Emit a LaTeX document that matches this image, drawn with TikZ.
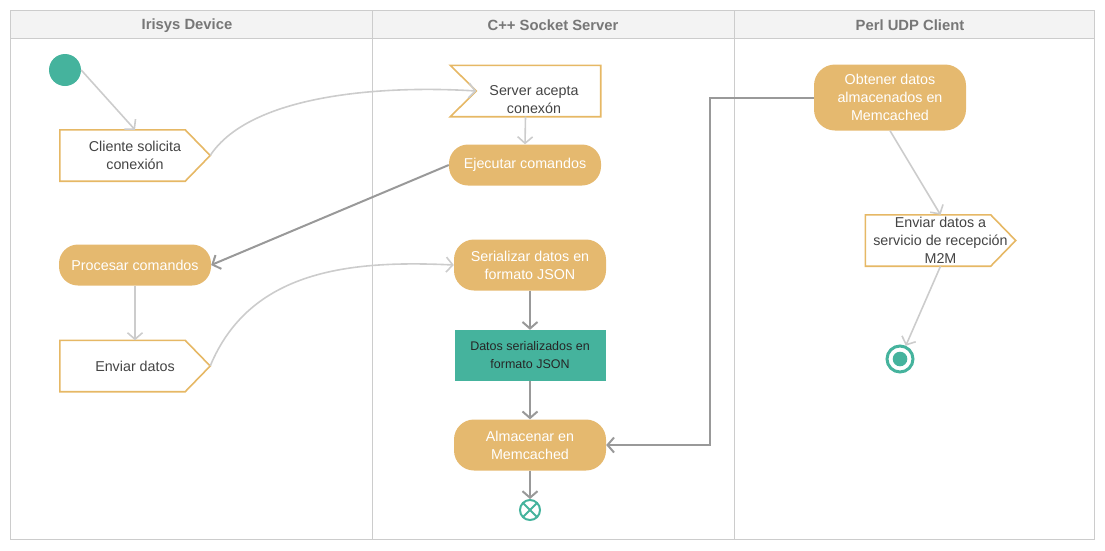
\documentclass[tikz,border=0pt]{standalone}
\usepackage{fontspec}
\setmainfont{Liberation Sans}
\usetikzlibrary{arrows.meta}
\definecolor{orng}{HTML}{E5B96F}
\definecolor{orngline}{HTML}{E6B865}
\definecolor{teal}{HTML}{45B39D}
\definecolor{lgrey}{HTML}{CCCCCC}
\definecolor{dgrey}{HTML}{999999}
\definecolor{hdr}{HTML}{F3F3F3}
\definecolor{hdrtext}{HTML}{777777}
\definecolor{txt}{HTML}{444444}
\begin{document}
\begin{tikzpicture}[x=1pt,y=-1pt,
  frame/.style={draw=lgrey, line width=1pt},
  lanetitle/.style={font=\fontsize{14.8}{17}\selectfont\bfseries, text=hdrtext},
  act/.style={rounded corners=19pt, fill=orng, text=white, minimum width=152pt, minimum height=41pt, align=center, inner sep=0pt, font=\fontsize{14.3}{18}\selectfont},
  sigbox/.style={minimum width=150pt, minimum height=51pt, align=center, inner sep=0pt, text=txt, font=\fontsize{14.3}{18}\selectfont},
  sigline/.style={draw=orngline, line width=1.6pt, fill=white},
  objbox/.style={fill=teal, minimum width=151pt, minimum height=51pt, align=center, inner sep=0pt, text=black!85, font=\fontsize{12.5}{18}\selectfont},
  lightarr/.style={draw=lgrey, line width=1.6pt, -{Straight Barb[length=6.5pt,width=15pt]}},
  darkarr/.style={draw=dgrey, line width=2pt, -{Straight Barb[length=6.5pt,width=15pt]}}
]
\useasboundingbox (0,0) rectangle (1105,550);
% lanes
\fill[hdr] (10,10) rectangle (1094,38);
\draw[frame] (10,10) rectangle (1094,539);
\draw[frame] (10,38) -- (1094,38);
\draw[frame] (372,10) -- (372,539);
\draw[frame] (734,10) -- (734,539);
\node[lanetitle] (l1) at (187,25.5) {Irisys Device};
\node[lanetitle] (l2) at (553,25.5) {C++ Socket Server};
\node[lanetitle] (l3) at (910,25.5) {Perl UDP Client};

% start
\node[circle, fill=teal, minimum size=32pt, inner sep=0pt] (start) at (65,70) {};

% Cliente solicita conexion
\node[sigbox] (cli) at (135,155.5) {};
\draw[sigline] (cli.north west) -- ([xshift=-25pt]cli.north east) -- (cli.east) -- ([xshift=-25pt]cli.south east) -- (cli.south west) -- cycle;
\node[sigbox, minimum width=0pt, minimum height=0pt] (clit) at (cli.center) {Cliente solicita\\conexión};

% Server acepta
\node[sigbox] (srv) at (525.5,91) {};
\draw[sigline] (srv.north west) -- (srv.north east) -- (srv.south east) -- (srv.south west) -- ([xshift=26pt]srv.west) -- cycle;
\coordinate (srvn) at ([xshift=26pt]srv.west);
\node[sigbox, minimum width=0pt, minimum height=0pt] (srvt) at (534,100) {Server acepta\\conexón};

% Ejecutar comandos
\node[act] (ejec) at (525,165) {Ejecutar comandos};

% Procesar comandos
\node[act] (proc) at (135,265) {Procesar comandos};

% Enviar datos
\node[sigbox] (env) at (135,366) {};
\draw[sigline] (env.north west) -- ([xshift=-25pt]env.north east) -- (env.east) -- ([xshift=-25pt]env.south east) -- (env.south west) -- cycle;
\node[sigbox, minimum width=0pt, minimum height=0pt] (envt) at (env.center) {Enviar datos};

% Serializar
\node[act, minimum height=51pt, rounded corners=20pt] (ser) at (530,265) {Serializar datos en\\formato JSON};

% Datos serializados
\node[objbox] (dat) at (530,355.5) {Datos serializados en\\formato JSON};

% Almacenar
\node[act, minimum height=51pt, rounded corners=20pt] (alm) at (530,445) {Almacenar en\\Memcached};

% flow final
\node[circle, draw=teal, line width=2pt, minimum size=20pt, inner sep=0pt] (ff) at (530,510) {};
\draw[teal, line width=2pt] ([shift={(-7,-7)}]ff.center) -- ([shift={(7,7)}]ff.center);
\draw[teal, line width=2pt] ([shift={(-7,7)}]ff.center) -- ([shift={(7,-7)}]ff.center);

% Obtener datos
\node[act, minimum height=66pt, rounded corners=21pt] (obt) at (890,97.5) {Obtener datos\\almacenados en\\Memcached};

% Enviar datos a servicio
\node[sigbox] (env2) at (940.5,240.5) {};
\draw[sigline] (env2.north west) -- ([xshift=-25pt]env2.north east) -- (env2.east) -- ([xshift=-25pt]env2.south east) -- (env2.south west) -- cycle;
\node[sigbox, minimum width=0pt, minimum height=0pt] (env2t) at (env2.center) {Enviar datos a\\servicio de recepción\\M2M};

% final
\node[circle, draw=teal, line width=3pt, minimum size=26pt, inner sep=0pt] (fin) at (900,359) {};
\fill[teal] (fin.center) circle (7.3pt);

% connectors
\draw[lightarr] (start.east) -- (cli.north);
\draw[lightarr] (cli.east) .. controls (250,95) and (380,85) .. (srvn);
\draw[lightarr] (srv.south) -- (ejec.north);
\draw[darkarr] (ejec.west) -- (proc.east);
\draw[lightarr] (proc.south) -- (env.north);
\draw[lightarr] (env.east) .. controls (250,270) and (350,260) .. (ser.west);
\draw[darkarr] (ser.south) -- (dat.north);
\draw[darkarr] (dat.south) -- (alm.north);
\draw[darkarr] (alm.south) -- (ff.north);
\draw[darkarr] (obt.west) -- ++(-104,0) |- (alm.east);
\draw[lightarr] (obt.south) -- (env2.north);
\draw[lightarr] (env2.south) -- (fin);
\end{tikzpicture}
\end{document}
